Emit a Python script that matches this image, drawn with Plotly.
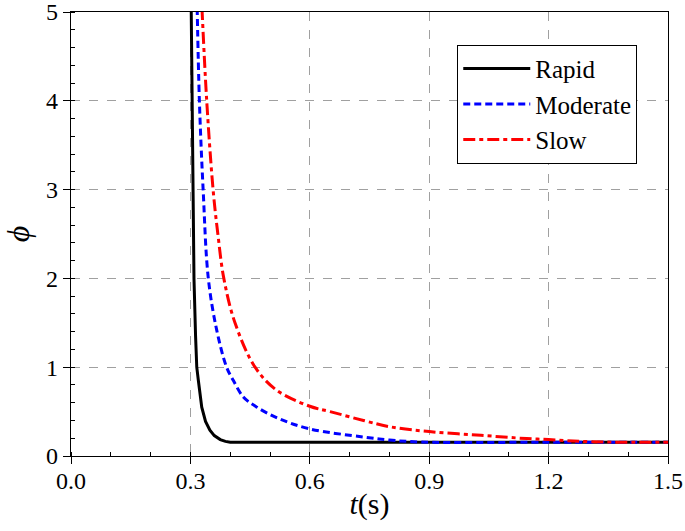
import plotly.graph_objects as go

# Data
rapid_t = [0.302, 0.304, 0.306, 0.309, 0.313, 0.316, 0.320, 0.3285, 0.338, 0.349, 0.36, 0.375, 0.388, 0.40, 0.6, 0.9, 1.2, 1.5]
rapid_phi = [5.05, 4.0, 3.0, 2.0, 1.35, 1.0, 0.85, 0.55, 0.39, 0.29, 0.23, 0.185, 0.165, 0.155, 0.155, 0.155, 0.155, 0.155]

moderate_t = [0.317, 0.3226, 0.332, 0.345, 0.366, 0.391, 0.408, 0.433, 0.467, 0.523, 0.6, 0.735, 0.80, 0.88, 1.2, 1.5]
moderate_phi = [5.05, 4.0, 3.0, 2.0, 1.42, 1.0, 0.85, 0.665, 0.55, 0.42, 0.305, 0.214, 0.18, 0.157, 0.155, 0.155]

slow_t = [0.329, 0.341, 0.357, 0.369, 0.384, 0.412, 0.4625, 0.517, 0.6, 0.651, 0.735, 0.80, 0.9, 1.03, 1.145, 1.2, 1.31, 1.5]
slow_phi = [5.05, 4.0, 3.0, 2.5, 2.0, 1.5, 1.0, 0.74, 0.56, 0.50, 0.40, 0.33, 0.275, 0.233, 0.196, 0.185, 0.16, 0.155]

x_ticks = [0.0, 0.3, 0.6, 0.9, 1.2, 1.5]
x_labels = ["0.0", "0.3", "0.6", "0.9", "1.2", "1.5"]
y_ticks = [0, 1, 2, 3, 4, 5]

FONT = "Times New Roman, Liberation Serif, serif"

fig = go.Figure()
fig.add_trace(go.Scatter(x=rapid_t, y=rapid_phi, mode="lines", name="Rapid",
                         line=dict(color="black", width=3)))
fig.add_trace(go.Scatter(x=moderate_t, y=moderate_phi, mode="lines", name="Moderate",
                         line=dict(color="#0000ff", width=3, dash="7px,4px", shape="spline", smoothing=1.0)))
fig.add_trace(go.Scatter(x=slow_t, y=slow_phi, mode="lines", name="Slow",
                         line=dict(color="#ff0000", width=3, dash="12px,4px,4px,4px", shape="spline", smoothing=1.0)))

axis_common = dict(
    showline=True, linecolor="black", linewidth=1.2, mirror=True,
    showgrid=True, gridcolor="#a0a0a0", griddash="dash", gridwidth=1,
    zeroline=False, automargin=False, ticklabeloverflow="allow",
    ticks="outside", ticklen=7, tickwidth=1.2, tickcolor="black",
    tickfont=dict(family=FONT, size=24, color="black"),
)

fig.update_xaxes(
    range=[0, 1.5], tickvals=x_ticks, ticktext=x_labels, ticklabelstandoff=-4,
    minor=dict(dtick=0.1, ticks="inside", ticklen=4, tickcolor="black", tickwidth=1, showgrid=False),
    title=dict(text="<i>t</i>(s)", font=dict(family=FONT, size=30, color="black"), standoff=0),
    **axis_common,
)
fig.update_yaxes(
    range=[0, 5], tickvals=y_ticks,
    minor=dict(dtick=0.2, ticks="inside", ticklen=4, tickcolor="black", tickwidth=1, showgrid=False),
    title=dict(text="<i>ϕ</i>", font=dict(family=FONT, size=32, color="black"), standoff=10),
    **axis_common,
)

fig.update_layout(
    width=685, height=531,
    margin=dict(l=71, r=17, t=12, b=75),
    paper_bgcolor="white", plot_bgcolor="white",
    showlegend=True,
    legend=dict(
        x=0.647, y=0.926, xanchor="left", yanchor="top",
        bgcolor="white", bordercolor="black", borderwidth=1,
        font=dict(family=FONT, size=25, color="black"),
        tracegroupgap=0, itemwidth=67,
    ),
)

fig.write_html("out.html", config={"displayModeBar": False},
               post_script="document.body.style.margin='0';document.body.style.overflow='hidden';")
